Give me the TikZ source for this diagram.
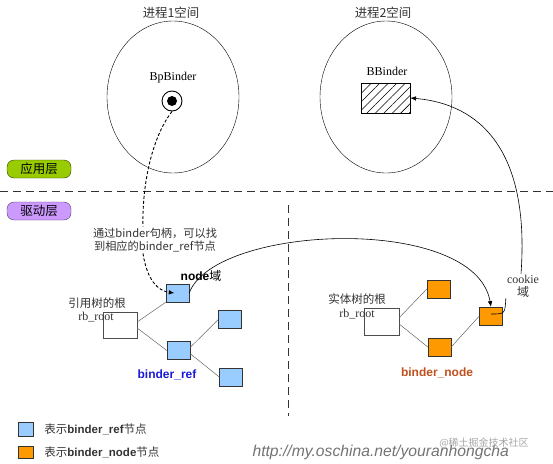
\documentclass[tikz,border=0pt]{standalone}
\usepackage{fontspec}
\setmainfont{Liberation Serif}
\setsansfont{Liberation Sans}
\newfontfamily\cjk{Noto Sans CJK SC}
\usetikzlibrary{arrows.meta,positioning,shapes.geometric,patterns.meta}
\definecolor{refblue}{HTML}{99CCFF}
\definecolor{nodeorange}{HTML}{FF9900}
\definecolor{appgreen}{HTML}{99CC00}
\definecolor{drvpurple}{HTML}{CC99FF}
\definecolor{refink}{HTML}{1A1AD6}
\definecolor{nodeink}{HTML}{C0501E}
\tikzset{space/.style={ellipse,draw,minimum width=132pt,minimum height=152pt}, title/.style={font=\cjk\fontsize{12.4}{14}\selectfont,text=black!80}, layerbtn/.style={draw,rounded corners=7pt,minimum width=64pt,minimum height=18pt,inner sep=0pt,font=\cjk\fontsize{12.5}{13}\selectfont}, refbox/.style={draw=black!80,fill=refblue,minimum width=23pt,minimum height=18pt,inner sep=0pt}, nodebox/.style={draw=black!80,fill=nodeorange,minimum width=23pt,minimum height=18pt,inner sep=0pt}, rootbox/.style={draw=black!70,fill=white,minimum width=34pt,minimum height=26pt,inner sep=0pt}, lbl/.style={font=\cjk\fontsize{11.5}{13.5}\selectfont,text=black!80,inner sep=1pt,align=center}, serif/.style={font=\fontsize{12}{13}\selectfont,text=black!80,inner sep=1pt,align=center}, bold/.style={font=\sffamily\bfseries\fontsize{12}{13}\selectfont}, tree/.style={draw=black!60,line width=0.5pt}, arr/.style={-{Latex[length=2mm,width=1.6mm]},line width=0.6pt}, handle/.style={-{Latex[length=2mm,width=1.6mm]},dash pattern=on 3pt off 2pt,line width=0.9pt}, sep/.style={dash pattern=on 8pt off 5pt,line width=0.7pt,draw=black!80}}

\begin{document}
\begin{tikzpicture}[x=1pt,y=-1pt]
\useasboundingbox (0,0) rectangle (553,463);
% process spaces
\node[title](t1) at (171,13){进程1空间};\node[title](t2) at (383,13){进程2空间};
\node[space](p1) at (173,97){};\node[space](p2) at (386,97){};
\node[serif,text=black](bpl) at (173,78){BpBinder};
\node[circle,draw,line width=0.9pt,minimum size=20pt,inner sep=0pt](bp) at (172,101){};
\node[circle,fill=black,minimum size=10pt,inner sep=0pt] at (bp){};
\node[serif,text=black](bbl) at (387,71){BBinder};
\node[draw,minimum width=49pt,minimum height=30pt,inner sep=0pt,pattern={Lines[angle=45,distance=6pt,line width=0.6pt]}](bb) at (385.5,98){};
% layers
\coordinate(h1) at (0,191);\coordinate(h2) at (553,191);\draw[sep](h1)--(h2);
\coordinate(v1) at (288,205);\coordinate(v2) at (288,416);\draw[sep](v1)--(v2);
\node[layerbtn,fill=appgreen,draw=black!70!appgreen](app) at (39,169){应用层};
\node[layerbtn,fill=drvpurple,draw=black!60!drvpurple](drv) at (39,211){驱动层};
% binder_ref tree
\node[rootbox](lroot) at (120,325){};
\node[lbl](lrt) at (97,303){引用树的根};\node[serif](lrb) at (96,317){rb\_root};
\node[refbox](ref1) at (177.5,293){};\node[refbox](ref2) at (178.5,350.5){};
\node[refbox](ref3) at (230,319.5){};\node[refbox](ref4) at (231,377){};
\draw[tree](lroot.10)--(ref1.south west);\draw[tree](lroot.-10)--(ref2.west);
\draw[tree](ref2.15)--(ref3.west);\draw[tree](ref2.-15)--(ref4.west);
\node[bold](ndf) at (201,276){node{\cjk\mdseries 域}};
\node[bold,text=refink](refname) at (167,375){binder\_ref};
% binder_node tree
\node[rootbox,minimum width=35pt,minimum height=27pt](rroot) at (381.5,321.5){};
\node[lbl](rrt) at (357,299){实体树的根};\node[serif](rrb) at (357,314){rb\_root};
\node[nodebox](n1) at (438.5,289){};\node[nodebox](n2) at (439.5,347){};\node[nodebox](n3) at (491,316){};
\draw[tree](rroot.12)--(n1.west);\draw[tree](rroot.-8)--(n2.west);\draw[tree](n2.east)--(n3.west);
\node[bold,text=nodeink](nodename) at (437,373){binder\_node};
\node[serif](cookie) at (523,286){cookie\\{\cjk 域}};
% references
\node[lbl,font=\cjk\fontsize{11.2}{13.5}\selectfont](hint) at (155,240){通过binder句柄，可以找\\到相应的binder\_ref节点};
\draw[handle,-](bp.south) .. controls (150,140) and (142,190) .. ([xshift=-12pt]hint.north);
\draw[handle]([xshift=-12pt]hint.south) .. controls (147,280) and (158,291) .. ([xshift=-3pt]ref1.center);
\draw[arr](ref1.east) .. controls (215,224) and (475,214) .. (n3.north);
\draw[arr]([xshift=-2pt]cookie.north) .. controls (530,150) and (480,104) .. (bb.east);
\draw[line width=0.6pt](cookie.south west) .. controls (505,314) .. ([yshift=2pt]n3.center);
% legend
\node[refbox,minimum width=15pt,minimum height=14pt](lg1) at (25.5,429){};
\node[right=10pt of lg1,lbl](lg1t){表示{\sffamily\bfseries binder\_ref}节点};
\node[nodebox,minimum width=15pt,minimum height=12pt](lg2) at (25.5,452.5){};
\node[right=10pt of lg2,lbl](lg2t){表示{\sffamily\bfseries binder\_node}节点};
\node[anchor=west,font=\sffamily\itshape\fontsize{15.7}{18}\selectfont,text=black!55](url) at (249,452){http://my.oschina.net/youranhongcha};
\node[font=\cjk\fontsize{10}{12}\selectfont,text=black!35](wm) at (484,443){@稀土掘金技术社区};
\end{tikzpicture}
\end{document}
